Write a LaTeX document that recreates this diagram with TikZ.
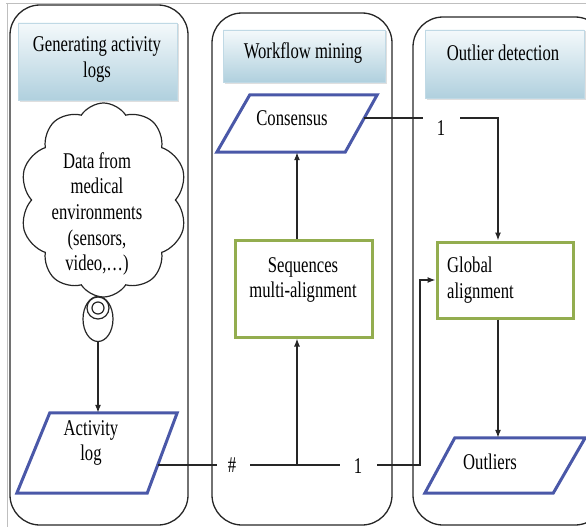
\documentclass[tikz,border=0pt]{standalone}
\usepackage{fontspec}
\setmainfont{Liberation Serif}
\newfontfamily\dfont{Liberation Serif}[FakeStretch=0.74]
\usetikzlibrary{shapes.symbols,shapes.geometric,arrows.meta,shadows,calc}
\definecolor{paraBlue}{HTML}{4A58A8}
\definecolor{boxGreen}{HTML}{93AD4F}
\definecolor{hdrTop}{HTML}{F4F9FB}
\definecolor{hdrBot}{HTML}{B0D0DE}
\begin{document}
\begin{tikzpicture}[x=1pt,y=-1pt,
  txt/.style={font=\dfont\fontsize{22.5}{25.7}\selectfont, inner sep=0pt},
  lane/.style={draw=black!85, line width=1.3pt, rounded corners=30pt},
  hdr/.style={top color=hdrTop, bottom color=hdrBot, draw=hdrBot!80!white, line width=0.6pt,
              drop shadow={opacity=0.25,shadow xshift=1.5pt,shadow yshift=-1.5pt}},
  para/.style={draw=paraBlue, line width=3pt, line join=miter, fill=white},
  gbox/.style={draw=boxGreen, line width=3pt, fill=white},
  conn/.style={line width=1.3pt, draw=black!85},
  arr/.style={conn, -{Latex[length=8pt,width=6pt]}},
  ghost/.style={inner sep=0pt, draw=none}]
\useasboundingbox (0,0) rectangle (586,527);
\clip (0,0) rectangle (586,527);
% frame
\draw[gray!50, line width=1pt] (6,4) -- (586,4);
\draw[gray!50, line width=1pt] (7,4) -- (7,527);
% lanes
\draw[lane] (10,5) rectangle (188,525);
\draw[lane] (212,13) rectangle (392,525);
\draw[lane] (413,17) rectangle (605,525);
% headers
\node[hdr, minimum width=159pt, minimum height=77pt] (h1) at (97.5,61.5) {};
\node[txt, align=center] (h1t) at (97,59.5) {Generating activity\\logs};
\node[hdr, minimum width=162pt, minimum height=52pt] (h2) at (304,56) {};
\node[txt] (h2t) at (303,53) {Workflow mining};
\node[hdr, minimum width=159pt, minimum height=68pt] (h3) at (504.5,64) {};
\node[txt] (h3t) at (503,53) {Outlier detection};
% cloud
\node[cloud, draw=black!85, line width=1.2pt, cloud puffs=10, cloud puff arc=115,
      cloud ignores aspect, minimum width=167pt, minimum height=194pt, inner sep=0pt] (cloud) at (103.5,200) {};
\node[txt, align=center] (cloudt) at (97,214) {Data from\\medical\\environments\\(sensors,\\video,…)};
% callout
\node[ellipse, draw=black!85, line width=1.2pt, fill=white, minimum width=30pt, minimum height=45pt, inner sep=0pt] (cal) at (98,319) {};
\node[circle, draw=black!85, line width=1.2pt, fill=white, minimum size=22pt, inner sep=0pt] (ring) at (98,308) {};
\node[circle, draw=black!85, line width=1.2pt, minimum size=12pt, inner sep=0pt] (dot) at (98,308) {};
% consensus
\node[ghost, minimum width=160pt, minimum height=57pt] (cons) at (297,123.5) {};
\draw[para] (cons.south west) -- ($(cons.north west)+(33,0)$) -- (cons.north east) -- ($(cons.south east)+(-32,0)$) -- cycle;
\node[txt] (const) at (292,118) {Consensus};
% sequences multi-alignment
\node[gbox, minimum width=137pt, minimum height=97pt] (sma) at (303.5,288.5) {};
\node[txt, align=center] (smat) at (303,280) {Sequences\\multi-alignment};
% global alignment
\node[gbox, minimum width=136pt, minimum height=76pt] (ga) at (505,280) {};
\node[txt, align=left, anchor=west] (gat) at (447,280) {Global\\alignment};
% activity log
\node[ghost, minimum width=160pt, minimum height=80pt] (act) at (97,453) {};
\draw[para] (act.south west) -- ($(act.north west)+(33,0)$) -- (act.north east) -- ($(act.south east)+(-30,0)$) -- cycle;
\node[txt, align=center] (actt) at (91,443) {Activity\\log};
% outliers
\node[ghost, minimum width=160pt, minimum height=55pt] (outl) at (505,465.5) {};
\draw[para] (outl.south west) -- ($(outl.north west)+(30,0)$) -- (outl.north east) -- ($(outl.south east)+(-32,0)$) -- cycle;
\node[txt] (outlt) at (490,462) {Outliers};
% connectors
\coordinate (consR) at (364,118);
\coordinate (c1a) at (423,118);
\coordinate (c1b) at (460,118);
\coordinate (gaTop) at ([xshift=-7pt]ga.north);
\coordinate (gaBot) at ([xshift=-7pt]ga.south);
\draw[conn] (consR) -- (c1a);
\draw[arr] (c1b) -| (gaTop);
\node[txt] (lab1a) at (441,128) {1};
\draw[arr] (gaBot) -- (gaBot |- outl.north);
\draw[arr] (cal.south) -- (cal.south |- act.north);
\coordinate (actR) at (157.5,465);
\coordinate (b1) at (217,465);
\coordinate (b2) at (250,465);
\coordinate (b3) at (340,465);
\coordinate (b4) at (377,465);
\coordinate (b5) at (420,465);
\coordinate (j) at (297,465);
\node[txt] (labh) at (232,465) {\#};
\node[txt] (lab1b) at (358,466) {1};
\draw[conn] (actR) -- (b1);
\draw[conn] (b2) -- (b3);
\draw[arr] (b4) -- (b5) |- (ga.west);
\draw[arr] (j) -- (j |- sma.south);
\draw[arr] (sma.north -| cons.south) -- (cons.south);
\end{tikzpicture}
\end{document}
